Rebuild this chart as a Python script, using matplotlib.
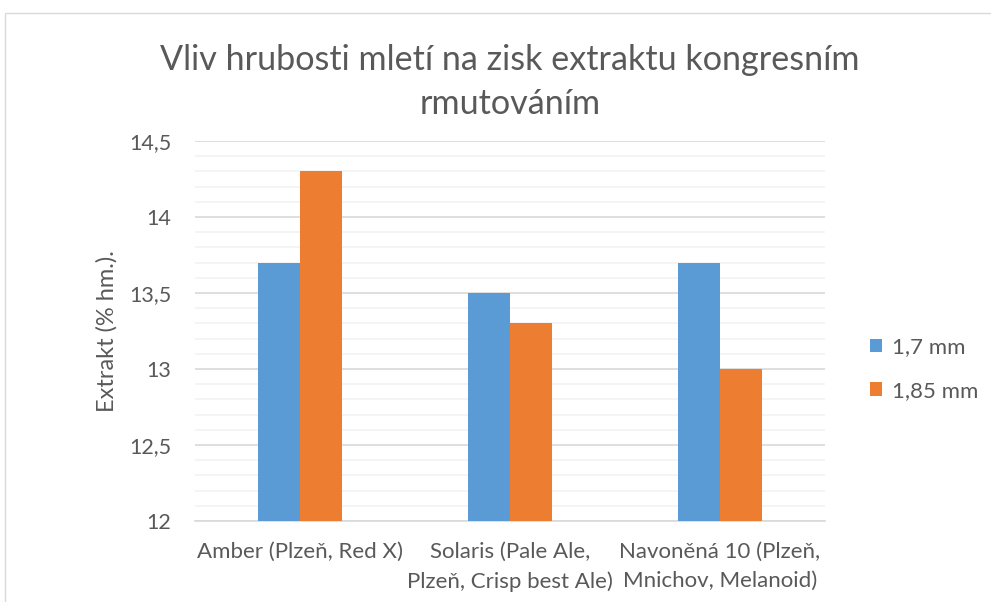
import numpy as np
import matplotlib
matplotlib.use("Agg")
import matplotlib.pyplot as plt
from matplotlib.patches import Rectangle
from matplotlib.ticker import FuncFormatter, MultipleLocator

plt.rcParams["font.family"] = ["Lato", "DejaVu Sans"]

categories = ["Amber (Plzeň, Red X)",
              "Solaris (Pale Ale,\nPlzeň, Crisp best Ale)",
              "Navoněná 10 (Plzeň,\nMnichov, Melanoid)"]
series_names = ["1,7 mm", "1,85 mm"]
vals_17 = [13.7, 13.5, 13.7]
vals_185 = [14.3, 13.3, 13.0]
colors = ["#5b9bd5", "#ed7d31"]

fig = plt.figure(figsize=(9.91, 6.02), dpi=100)
# rámeček grafu
fig.patches.append(Rectangle((5 / 991, -0.1), 1.2, 1.1 - 13 / 602,
                             transform=fig.transFigure, fill=False,
                             edgecolor="#d9d9d9", lw=1))
ax = fig.add_axes([195 / 991, 1 - 521 / 602, 630 / 991, 380 / 602])

x = np.arange(len(categories))
w = 0.2
ax.bar(x - w / 2, vals_17, w, color=colors[0], label=series_names[0], zorder=3)
ax.bar(x + w / 2, vals_185, w, color=colors[1], label=series_names[1], zorder=3)

ax.set_xlim(-0.5, 2.5)
ax.set_ylim(12, 14.5)
ax.yaxis.set_major_locator(MultipleLocator(0.5))
ax.yaxis.set_minor_locator(MultipleLocator(0.1))
ax.yaxis.set_major_formatter(FuncFormatter(lambda v, p: f"{v:g}".replace(".", ",")))
ax.grid(axis="y", which="major", color="#d9d9d9", lw=1.2, zorder=0)
ax.grid(axis="y", which="minor", color="#f2f2f2", lw=1.2, zorder=0)
for s in ["top", "right", "left"]:
    ax.spines[s].set_visible(False)
ax.spines["bottom"].set_color("#d9d9d9")
ax.spines["bottom"].set_linewidth(1.2)
ax.tick_params(axis="both", which="both", length=0, colors="#595959")
ax.tick_params(axis="y", labelsize=15.5, pad=17)
ax.tick_params(axis="x", labelsize=16, pad=15)
ax.set_xticks(x)
ax.set_xticklabels(categories, linespacing=1.55)
ax.set_ylabel("Extrakt (% hm.).", fontsize=17, color="#595959", labelpad=8)

fig.text(510 / 991, 1 - 82 / 602,
         "Vliv hrubosti mletí na zisk extraktu kongresním\nrmutováním",
         ha="center", va="center", fontsize=24.6, color="#595959", linespacing=1.45)

ax.legend(loc="center left", bbox_to_anchor=(1.04, 0.40), frameon=False,
          fontsize=16, labelcolor="#595959", handlelength=0.55, handleheight=0.55,
          handletextpad=0.45, labelspacing=1.05)

fig.savefig("out.png", dpi=100)
